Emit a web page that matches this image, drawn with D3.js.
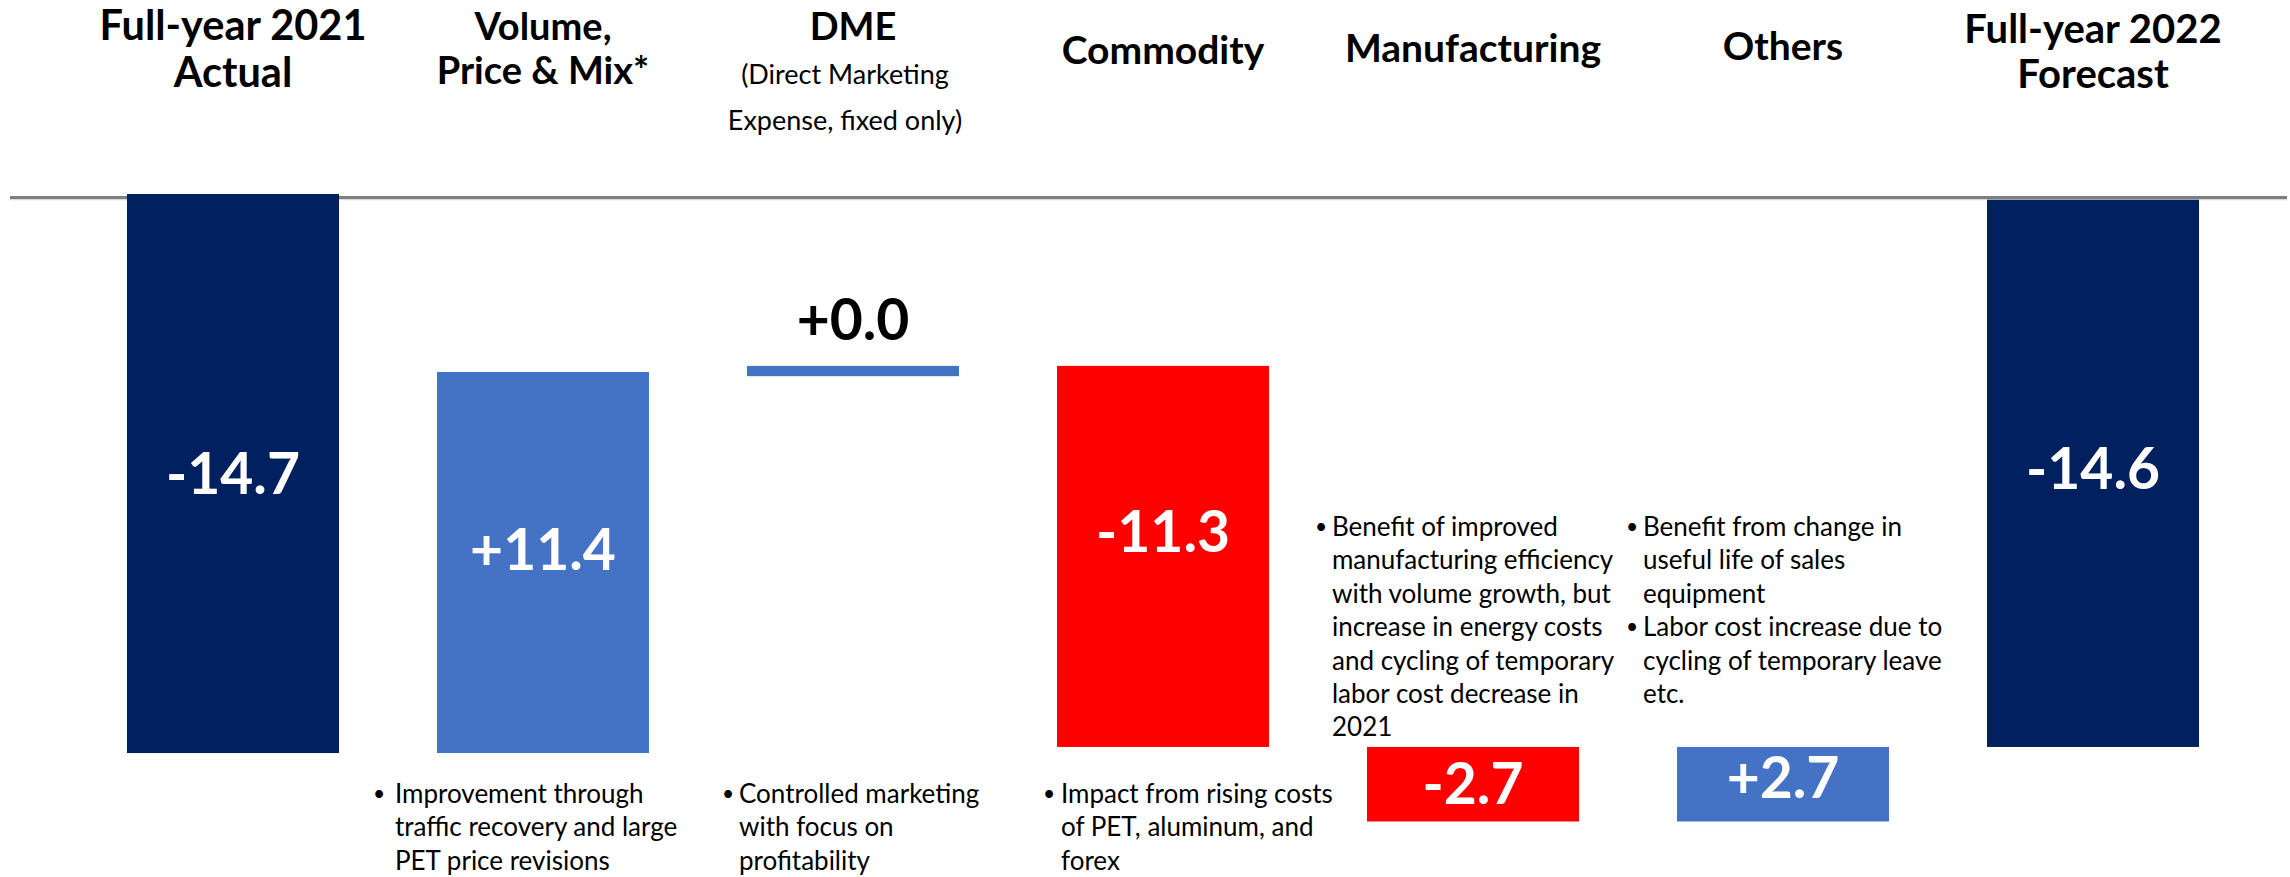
<!DOCTYPE html>
<html>
<head>
<meta charset="utf-8">
<script src="https://cdn.jsdelivr.net/npm/d3@7"></script>
<style>
  html, body { margin: 0; padding: 0; background: #fff; }
  svg { display: block; }
  text { font-family: Lato, "Open Sans", sans-serif; }
</style>
</head>
<body>
<script>
// Data
//=================================
var categories = ["FY2021", "VPM", "DME", "Commodity", "Manufacturing", "Others", "FY2022"];
var headerLines = [
  ["Full-year 2021", "Actual"],
  ["Volume,", "Price & Mix*"],
  ["DME"],
  ["Commodity"],
  ["Manufacturing"],
  ["Others"],
  ["Full-year 2022", "Forecast"]
];
var subHeaderLines = [[], [], ["(Direct Marketing", "Expense, fixed only)"], [], [], [], []];
var values = [-14.7, 11.4, 0.0, -11.3, -2.7, 2.7, -14.6];
var valueLabels = ["-14.7", "+11.4", "+0.0", "-11.3", "-2.7", "+2.7", "-14.6"];
var barKind = ["total", "up", "up", "down", "down", "up", "total"];
// extent of each bar as it is drawn on the slide, same units (0 = top rule)
var barFrom = [0, -14.7, -4.52, -4.52, -14.54, -16.5, -0.15];
var barTo = [-14.7, -4.68, -4.79, -14.54, -16.5, -14.54, -14.54];
var notes = [
  [],
  [["Improvement through", "traffic recovery and large", "PET price revisions"]],
  [["Controlled marketing", "with focus on", "profitability"]],
  [["Impact from rising costs", "of PET, aluminum, and", "forex"]],
  [["Benefit of improved", "manufacturing efficiency", "with volume growth, but",
    "increase in energy costs", "and cycling of temporary", "labor cost decrease in", "2021"]],
  [["Benefit from change in", "useful life of sales", "equipment"],
   ["Labor cost increase due to", "cycling of temporary leave", "etc."]],
  []
];

// Layout
//=================================
var svgWidth = 2290;
var svgHeight = 877;

var colors = { total: "#002060", up: "#4472C4", down: "#FF0000" };

var headerStyle = [
  { size: 41.5, y: [40, 86.5] },
  { size: 38, y: [40, 84] },
  { size: 38, y: [40] },
  { size: 39, y: [64] },
  { size: 39, y: [62] },
  { size: 39, y: [60] },
  { size: 40, y: [43, 88] }
];
var subHeaderY = [84, 130];

// small vertical nudges of the value labels, as on the slide
var labelShift = [0, -13, 0, -24, 0, -6, -4];

var noteLayout = {
  1: { dx: -63, indent: 21, y: 803 },
  2: { dx: -24, indent: 16, y: 803 },
  3: { dx: -13, indent: 17, y: 803 },
  4: { dx: -51, indent: 16, y: 536 },
  5: { dx: -50, indent: 16, y: 536 }
};
var noteLineHeight = 33.4;
var noteSize = 26;

var svg = d3.select("body")
  .append("svg")
  .attr("width", svgWidth)
  .attr("height", svgHeight);

// Scales
var x = d3.scaleBand()
  .domain(categories)
  .range([78, 2248])
  .paddingInner(0.3161)
  .paddingOuter(0.158);

var y = d3.scaleLinear()
  .domain([0, -20])
  .range([194, 194 + 20 * 38.03]);

// Top rule
svg.append("line")
  .attr("x1", 10).attr("x2", 2287)
  .attr("y1", y(0) + 5.5).attr("y2", y(0) + 5.5)
  .attr("stroke", "#dcdcdc")
  .attr("stroke-width", 1.5);
svg.append("line")
  .attr("x1", 10).attr("x2", 2287)
  .attr("y1", y(0) + 3.5).attr("y2", y(0) + 3.5)
  .attr("stroke", "#7f7f7f")
  .attr("stroke-width", 3);

// Bars
var bars = categories.map(function(c, i) {
  return {
    cat: c,
    value: values[i],
    label: valueLabels[i],
    kind: barKind[i],
    shift: labelShift[i],
    top: Math.max(barFrom[i], barTo[i]),
    bottom: Math.min(barFrom[i], barTo[i])
  };
});

svg.selectAll("rect.bar")
  .data(bars)
  .enter()
  .append("rect")
  .attr("class", "bar")
  .attr("x", d => x(d.cat))
  .attr("width", x.bandwidth())
  .attr("y", d => y(d.top))
  .attr("height", d => y(d.bottom) - y(d.top))
  .attr("fill", d => colors[d.kind]);

// Value labels
svg.selectAll("text.value")
  .data(bars)
  .enter()
  .append("text")
  .attr("class", "value")
  .attr("x", d => x(d.cat) + x.bandwidth() / 2)
  .attr("y", function(d) {
    var h = y(d.bottom) - y(d.top);
    if (h < 40) return y(d.top) - 26;
    return (y(d.top) + y(d.bottom)) / 2 + 20 + d.shift;
  })
  .attr("text-anchor", "middle")
  .attr("font-size", 57)
  .attr("font-weight", 700)
  .attr("fill", function(d) {
    var h = y(d.bottom) - y(d.top);
    return h < 40 ? "#000" : "#fff";
  })
  .text(d => d.label);

// Headers (one text per header, lines as tspans)
categories.forEach(function(c, i) {
  var cx = x(c) + x.bandwidth() / 2;
  var head = svg.append("text")
    .attr("text-anchor", "middle")
    .attr("font-size", headerStyle[i].size)
    .attr("font-weight", 700)
    .attr("fill", "#000");
  headerLines[i].forEach(function(line, j) {
    head.append("tspan")
      .attr("x", cx)
      .attr("y", headerStyle[i].y[j])
      .text(line);
  });
  if (subHeaderLines[i].length) {
    var sub = svg.append("text")
      .attr("text-anchor", "middle")
      .attr("font-size", 27)
      .attr("fill", "#000");
    subHeaderLines[i].forEach(function(line, j) {
      sub.append("tspan")
        .attr("x", cx - 8)
        .attr("y", subHeaderY[j])
        .text(line);
    });
  }
});

// Bullet notes
categories.forEach(function(c, i) {
  var lay = noteLayout[i];
  if (!lay) return;
  var bx = x(c) + lay.dx;
  var row = 0;
  notes[i].forEach(function(bullet) {
    bullet.forEach(function(line, j) {
      var ty = lay.y + row * noteLineHeight;
      if (j === 0) {
        svg.append("text")
          .attr("x", bx - 1)
          .attr("y", ty - 2)
          .attr("font-size", 21)
          .attr("fill", "#000")
          .text("\u2022");
      }
      svg.append("text")
        .attr("x", bx + lay.indent)
        .attr("y", ty)
        .attr("font-size", noteSize)
        .attr("fill", "#000")
        .text(line);
      row++;
    });
  });
});
</script>
</body>
</html>
